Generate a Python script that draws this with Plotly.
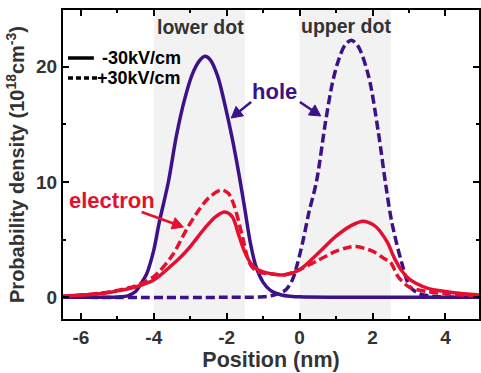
import math
import plotly.graph_objects as go

# ---------------- data ----------------
hole_neg_x = [-6.5, -5.5, -5.0, -4.7, -4.5, -4.35, -4.2, -4.0, -3.85, -3.6, -3.38, -3.16, -2.95, -2.75, -2.6,
              -2.45, -2.25, -2.02, -1.85, -1.66, -1.5, -1.35, -1.2, -1.0, -0.8, -0.5, -0.2, 0.0, 1.0, 2.0, 3.0, 4.0, 4.92]
hole_neg_y = [0.0, 0.0, 0.02, 0.15, 0.5, 1.2, 2.0, 4.1, 6.5, 10.0, 14.0, 17.1, 19.3, 20.5, 20.9,
              20.6, 19.2, 16.3, 13.8, 10.6, 7.6, 4.7, 2.7, 1.3, 0.6, 0.2, 0.08, 0.04, 0.0, 0.0, 0.0, 0.0, 0.0]

hole_pos_x = [-6.5, -2.0, -1.0, -0.7, -0.38, -0.2, -0.07, 0.1, 0.25, 0.46, 0.71, 0.9, 1.07, 1.25, 1.42,
              1.6, 1.89, 2.16, 2.36, 2.53, 2.8, 3.03, 3.3, 3.6, 4.0, 4.92]
hole_pos_y = [0.0, 0.0, 0.05, 0.2, 0.65, 1.5, 2.8, 5.0, 7.3, 10.0, 15.2, 18.6, 20.6, 21.9, 22.3,
              21.8, 19.2, 14.3, 9.8, 6.5, 3.0, 0.9, 0.3, 0.1, 0.02, 0.0]

elec_neg_x = [-6.5, -6.0, -5.5, -5.0, -4.5, -4.0, -3.5, -3.2, -3.0, -2.6, -2.3, -2.05, -1.85, -1.66,
              -1.5, -1.35, -1.2, -1.0, -0.7, -0.4, 0.0, 0.5, 1.0, 1.4, 1.75, 2.1, 2.4, 2.6, 2.8,
              3.0, 3.5, 4.0, 4.5, 4.92]
elec_neg_y = [0.1, 0.2, 0.3, 0.55, 0.9, 1.5, 2.8, 3.7, 4.4, 6.0, 7.0, 7.4, 7.0, 5.3,
              3.9, 3.0, 2.5, 2.2, 2.0, 1.95, 2.4, 3.8, 5.3, 6.2, 6.6, 6.1, 4.8, 3.4, 2.3,
              1.6, 0.8, 0.5, 0.3, 0.2]

elec_pos_x = [-6.5, -6.0, -5.5, -5.0, -4.5, -4.0, -3.5, -3.1, -2.8, -2.5, -2.15, -1.95, -1.8, -1.57,
              -1.38, -1.2, -1.0, -0.7, -0.4, 0.0, 0.5, 1.0, 1.3, 1.55, 2.0, 2.3, 2.5, 2.7,
              3.0, 3.5, 4.0, 4.5, 4.92]
elec_pos_y = [0.1, 0.2, 0.35, 0.6, 1.0, 1.8, 3.6, 5.9, 7.4, 8.6, 9.3, 9.0, 8.0, 5.3,
              3.0, 2.3, 2.1, 2.0, 1.95, 2.4, 3.2, 4.0, 4.3, 4.4, 4.0, 3.4, 3.0, 1.8,
              0.9, 0.5, 0.3, 0.2, 0.1]

lower_dot = (-4.0, -1.5)
upper_dot = (0.0, 2.5)

x_ticks = [-6, -4, -2, 0, 2, 4]
y_ticks = [0, 10, 20]

PURPLE = "#3d1289"
RED = "#e5102f"
GREY_TXT = "#333333"
FONT = "Liberation Sans, Arial, sans-serif"

X_RANGE = [-6.49, 4.92]
Y_RANGE = [-1.88, 24.92]

fig = go.Figure()

def add(x, y, color, dash):
    fig.add_trace(go.Scatter(x=x, y=y, mode="lines",
                             line=dict(color=color, width=3.5, dash=dash, shape="spline", smoothing=0.9),
                             showlegend=False, hoverinfo="skip"))

add(hole_neg_x, hole_neg_y, PURPLE, "solid")
add(hole_pos_x, hole_pos_y, PURPLE, "9px,4px")
add(elec_pos_x, elec_pos_y, RED, "9px,4px")
add(elec_neg_x, elec_neg_y, RED, "solid")

shapes = []
for x0, x1 in (lower_dot, upper_dot):
    shapes.append(dict(type="rect", xref="x", yref="paper", x0=x0, x1=x1, y0=0, y1=1,
                       fillcolor="#f2f2f2", line=dict(width=0), layer="below"))

# plot-area geometry for pixel -> paper conversion
W, H = 481, 373
ML, MR, MT, MB = 63, 0, 10, 54
PW, PH = W - ML - MR, H - MT - MB

def px(xp):
    return (xp - ML) / PW

def py(yp):
    return 1 - (yp - MT) / PH

# legend samples
shapes.append(dict(type="line", xref="paper", yref="paper", x0=px(68), x1=px(94), y0=py(58), y1=py(58),
                   line=dict(color="black", width=3.5)))
shapes.append(dict(type="line", xref="paper", yref="paper", x0=px(68), x1=px(100), y0=py(78), y1=py(78),
                   line=dict(color="black", width=3.5, dash="5px,3px")))

def arrow(x_tail, y_tail, x_tip, y_tip, color, head_len=11, head_half=6):
    dx, dy = x_tip - x_tail, y_tip - y_tail
    L = math.hypot(dx, dy)
    ux, uy = dx / L, dy / L
    bx, by = x_tip - ux * head_len, y_tip - uy * head_len
    nx, ny = -uy, ux
    shapes.append(dict(type="line", xref="paper", yref="paper", x0=px(x_tail), y0=py(y_tail),
                       x1=px(bx + ux * 2), y1=py(by + uy * 2), line=dict(color=color, width=2.5)))
    path = "M {} {} L {} {} L {} {} Z".format(
        px(x_tip), py(y_tip),
        px(bx + nx * head_half), py(by + ny * head_half),
        px(bx - nx * head_half), py(by - ny * head_half))
    shapes.append(dict(type="path", xref="paper", yref="paper", path=path,
                       fillcolor=color, line=dict(color=color, width=1)))

arrow(252, 102, 232, 118, PURPLE)
arrow(301, 102, 322, 116, PURPLE)
arrow(142, 212, 184, 227, RED)

ann = []
def text(s, xp, yp, size, color, xanchor="center"):
    ann.append(dict(text=s, xref="paper", yref="paper", x=px(xp), y=py(yp), xanchor=xanchor, yanchor="middle",
                    showarrow=False, font=dict(family=FONT, size=size, color=color, weight="bold")))

text("-30kV/cm", 100, 58, 18, "black", "left")
text("+30kV/cm", 95, 78, 18, "black", "left")
text("lower dot", 201, 27, 19.5, GREY_TXT)
text("upper dot", 347, 26, 19.5, GREY_TXT)
text("hole", 276, 92, 22, PURPLE)
text("electron", 112.5, 200, 22, RED)

axis_common = dict(showline=True, linecolor="black", linewidth=2, mirror="allticks", ticks="inside",
                   ticklen=6, tickwidth=2, tickcolor="black", showgrid=False, zeroline=False,
                   tickfont=dict(family=FONT, size=19, color=GREY_TXT, weight="bold"))

fig.update_layout(
    width=W, height=H, margin=dict(l=ML, r=MR, t=MT, b=MB),
    plot_bgcolor="white", paper_bgcolor="white",
    shapes=shapes, annotations=ann,
    xaxis=dict(range=X_RANGE, tickvals=x_ticks, ticktext=[str(v) for v in x_ticks],
               minor=dict(dtick=1, tick0=0, ticks="inside", ticklen=3, tickwidth=2, tickcolor="black"),
               title=dict(text="Position (nm)", standoff=4,
                          font=dict(family=FONT, size=21.5, color=GREY_TXT, weight="bold")),
               **axis_common),
    yaxis=dict(range=Y_RANGE, tickvals=y_ticks, ticktext=[str(v) for v in y_ticks],
               minor=dict(dtick=5, tick0=0, ticks="inside", ticklen=3, tickwidth=2, tickcolor="black"),
               title=dict(text="Probability density (10<sup>18</sup>cm<sup>-3</sup>)", standoff=6,
                          font=dict(family=FONT, size=20, color=GREY_TXT, weight="bold")),
               **axis_common),
)

fig.write_html("out.html")
